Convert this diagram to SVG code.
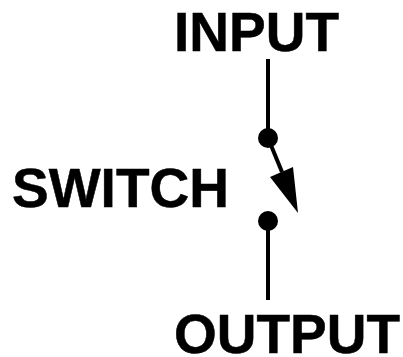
<svg xmlns="http://www.w3.org/2000/svg" width="403" height="357" viewBox="0 0 403 357">
<style>
text{font-family:"Liberation Sans",Arial,sans-serif;font-weight:bold;font-size:55px;fill:#000;stroke:#000;stroke-width:0.5}
line{stroke:#000;stroke-width:4;fill:none}
</style>
<rect width="403" height="357" fill="#fff"/>
<g id="connectors">
<line x1="268" y1="59" x2="268" y2="138"/>
<line x1="268" y1="221" x2="268" y2="300"/>
<line x1="268" y1="138" x2="282" y2="172"/>
<polygon points="298,213 270,177 293,167" fill="#000"/>
</g>
<g id="input"><text x="174" y="51">INPUT</text></g>
<g id="switch"><text x="12" y="206.5">SWITCH</text></g>
<g id="output"><text x="174" y="353">OUTPUT</text></g>
<g id="contact-top"><circle cx="268" cy="138" r="10"/></g>
<g id="contact-bottom"><circle cx="268" cy="221" r="10"/></g>
</svg>
